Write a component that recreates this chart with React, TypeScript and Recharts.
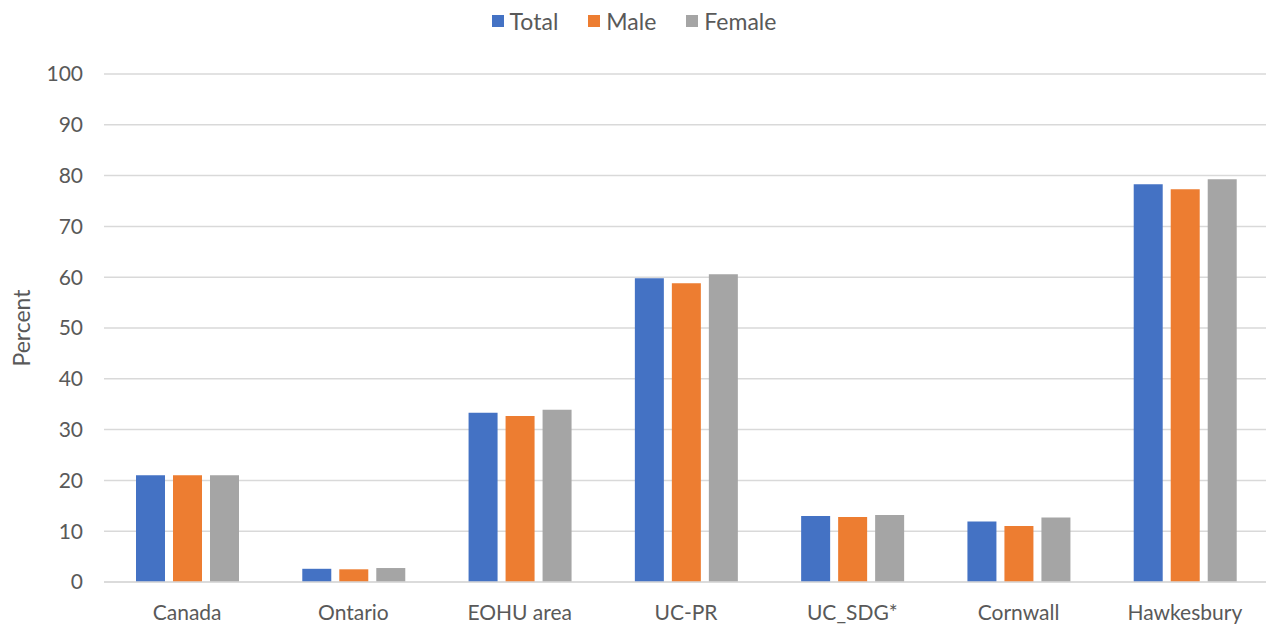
import React from "react";
import { BarChart, Bar, XAxis, YAxis, CartesianGrid, Legend } from "recharts";

const regions = ["Canada", "Ontario", "EOHU area", "UC-PR", "UC_SDG*", "Cornwall", "Hawkesbury"];
const total = [21.0, 2.6, 33.3, 59.8, 13.0, 11.9, 78.3];
const male = [21.0, 2.5, 32.7, 58.8, 12.8, 11.0, 77.3];
const female = [21.0, 2.75, 33.9, 60.6, 13.2, 12.7, 79.3];
const yTicks = [0, 10, 20, 30, 40, 50, 60, 70, 80, 90, 100];

const seriesList = [
  { key: "total", name: "Total", color: "#4472C4" },
  { key: "male", name: "Male", color: "#ED7D31" },
  { key: "female", name: "Female", color: "#A5A5A5" },
];

const data = regions.map((region, i) => ({
  region,
  total: total[i],
  male: male[i],
  female: female[i],
}));

const FONT = "Lato, 'Open Sans', sans-serif";
const TEXT = "#595959";

function TopLegend() {
  return (
    <div
      style={{
        display: "flex",
        justifyContent: "center",
        gap: 30,
        height: 30,
        alignItems: "center",
        fontFamily: FONT,
        fontSize: 23,
        color: TEXT,
      }}
    >
      {seriesList.map((s) => (
        <div key={s.key} style={{ display: "flex", alignItems: "center", gap: 6 }}>
          <span style={{ width: 12, height: 12, background: s.color, display: "inline-block" }} />
          <span>{s.name}</span>
        </div>
      ))}
    </div>
  );
}

export default function App() {
  return (
    <div style={{ position: "absolute", left: 0, top: 0, width: 1266, height: 625, background: "#fff", overflow: "hidden" }}>
      <BarChart
        width={1268}
        height={625}
        data={data}
        margin={{ top: 44, right: 0, bottom: 0, left: 0 }}
        barGap={8}
        barCategoryGap="19%"
      >
        <CartesianGrid vertical={false} stroke="#d9d9d9" strokeWidth={1.5} />
        <XAxis
          dataKey="region"
          height={43}
          tickLine={false}
          axisLine={{ stroke: "#d9d9d9", strokeWidth: 1.5 }}
          tick={{ fill: TEXT, fontSize: 21, fontFamily: FONT }}
          tickMargin={17}
          interval={0}
        />
        <YAxis
          width={104}
          domain={[0, 100]}
          ticks={yTicks}
          tickLine={false}
          axisLine={false}
          tick={{ fill: TEXT, fontSize: 21, fontFamily: FONT }}
          tickMargin={15}
          label={{
            value: "Percent",
            angle: -90,
            position: "insideLeft",
            offset: 22,
            style: { textAnchor: "middle", fill: TEXT, fontSize: 23, fontFamily: FONT },
          }}
        />
        <Legend verticalAlign="top" align="center" content={() => <TopLegend />} wrapperStyle={{ top: 6 }} />
        {seriesList.map((s) => (
          <Bar key={s.key} dataKey={s.key} name={s.name} fill={s.color} barSize={29} isAnimationActive={false} />
        ))}
      </BarChart>
    </div>
  );
}
